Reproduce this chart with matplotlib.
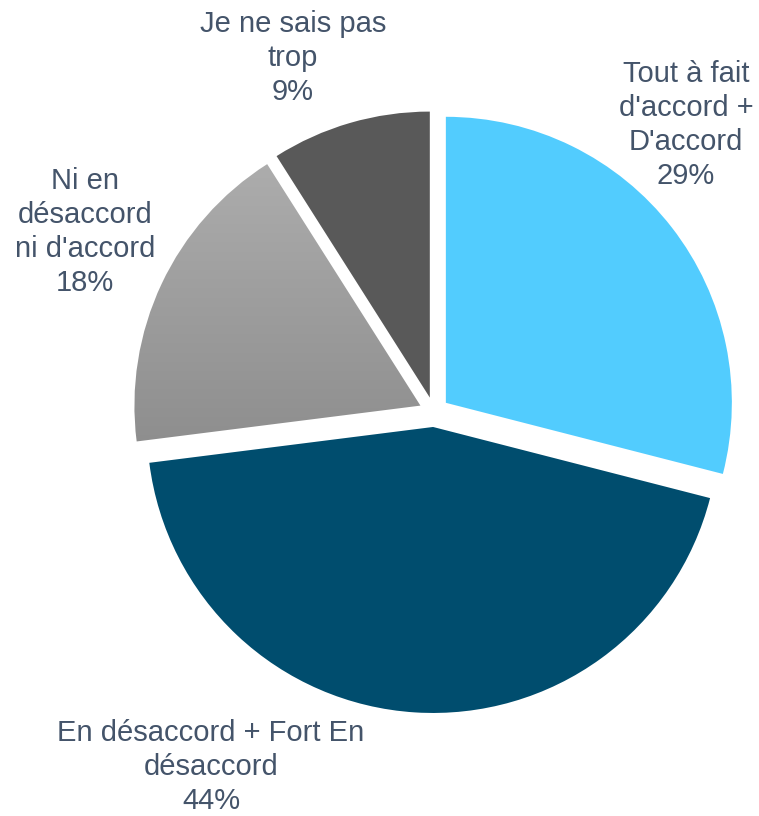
import matplotlib.pyplot as plt
import numpy as np
from matplotlib.colors import LinearSegmentedColormap

plt.rcParams['font.family'] = ['Liberation Sans', 'DejaVu Sans']

labels = ["Tout à fait\nd'accord +\nD'accord", "En désaccord + Fort En\ndésaccord",
          "Ni en\ndésaccord\nni d'accord", "Je ne sais pas\ntrop"]
values = [29, 44, 18, 9]
colors = ['#52CCFE', '#004D6E', '#9E9E9E', '#595959']
# label block centres in pixel coords (x, y from top)
label_pos = [(686, 125), (211, 767), (85, 232), (293, 58)]

W, H = 759, 816
fig = plt.figure(figsize=(W / 100, H / 100), dpi=100)
ax = fig.add_axes([0, 0, 1, 1])

cx, cy, r = 434, H - 412, 286
# explode is in data units here (pixels)
wedges, _ = ax.pie(values, colors=colors, startangle=90, counterclock=False,
                   radius=r, center=(cx, cy), explode=[15] * 4,
                   frame=True)

# vertical gradient on the grey slice
grad = np.linspace(0, 1, 256).reshape(-1, 1)
cmap = LinearSegmentedColormap.from_list('g', ['#8E8E8E', '#AEAEAE'])
g = wedges[2]
g.set_facecolor('none')
x0, y0, x1, y1 = 120, H - 445, 440, H - 150
im = ax.imshow(grad, cmap=cmap, extent=[x0, x1, y0, y1], origin='lower',
               aspect='auto', zorder=3)
im.set_clip_path(g)

ax.set_xlim(0, W)
ax.set_ylim(0, H)
ax.set_aspect('equal')
ax.axis('off')

for (lx, ly), lab, v in zip(label_pos, labels, values):
    ax.text(lx, H - ly, f"{lab}\n{v}%", ha='center', va='center',
            fontsize=21, color='#44546A', linespacing=1.26)

fig.savefig('out.png', dpi=100)
